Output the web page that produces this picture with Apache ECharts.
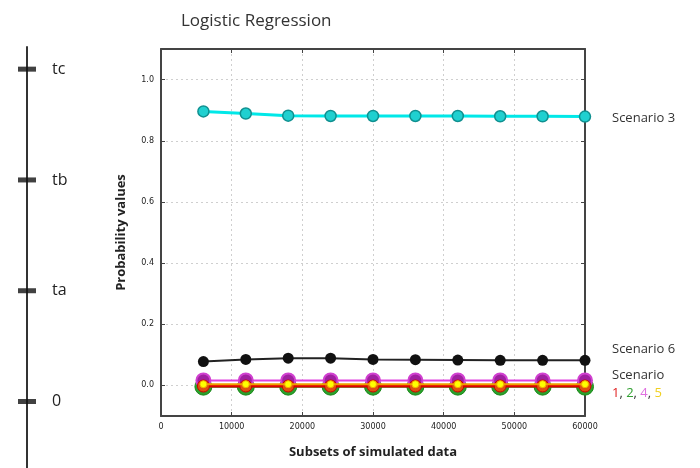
<!DOCTYPE html>
<html>
<head>
<meta charset="utf-8">
<script src="https://cdn.jsdelivr.net/npm/echarts@6/dist/echarts.min.js"></script>
<style>html,body{margin:0;padding:0;background:#fff}#c{width:700px;height:468px}</style>
</head>
<body>
<div id="c"></div>
<script>
const subsets = [6000, 12000, 18000, 24000, 30000, 36000, 42000, 48000, 54000, 60000];
const scenario3 = [0.896, 0.889, 0.882, 0.881, 0.881, 0.881, 0.881, 0.880, 0.880, 0.879];
const scenario6 = [0.078, 0.085, 0.089, 0.089, 0.085, 0.084, 0.083, 0.082, 0.082, 0.082];
const scenario1 = [-0.002, -0.002, -0.002, -0.002, -0.002, -0.002, -0.002, -0.002, -0.002, -0.002];
const scenario2 = [-0.004, -0.004, -0.004, -0.004, -0.004, -0.004, -0.004, -0.004, -0.004, -0.004];
const scenario4 = [0.016, 0.016, 0.016, 0.016, 0.016, 0.016, 0.016, 0.016, 0.016, 0.016];
const scenario5 = [0.004, 0.004, 0.004, 0.004, 0.004, 0.004, 0.004, 0.004, 0.004, 0.004];
const yTicks = [0.0, 0.2, 0.4, 0.6, 0.8, 1.0];
const xTicks = [0, 10000, 20000, 30000, 40000, 50000, 60000];
const timeTicks = [0, 1, 2, 3];
const timeLabels = ['0', 'ta', 'tb', 'tc'];

const pts = arr => arr.map((v, i) => [subsets[i], v]);
const FONT = '"Open Sans", sans-serif';

const chart = echarts.init(document.getElementById('c'), null, {renderer: 'canvas'});
const axisLineStyle = {show: true, onZero: false, lineStyle: {color: '#444', width: 2}};
const tickStyle = {show: true, inside: true, length: 4, lineStyle: {color: '#444'}};
const splitStyle = {show: true, lineStyle: {color: '#cfcfcf', type: [2, 3], width: 1}};
const tickLabelStyle = {fontSize: 8, color: '#222', margin: 7, fontFamily: 'DejaVu Sans'};
chart.setOption({
  animation: false,
  backgroundColor: '#fff',
  title: {
    text: 'Logistic Regression', left: 176, top: 8,
    textStyle: {fontFamily: FONT, fontSize: 17, fontWeight: 'normal', color: '#333'}
  },
  grid: [
    {left: 161, top: 49, width: 424, height: 367, show: false},
    {left: 27, top: 47, width: 40, height: 421, show: false}
  ],
  xAxis: [
    {
      type: 'value', gridIndex: 0, min: 0, max: 60000, position: 'bottom',
      name: 'Subsets of simulated data', nameLocation: 'middle', nameGap: 30,
      nameTextStyle: {fontFamily: FONT, fontSize: 13, fontWeight: 'bold', color: '#222'},
      axisLine: axisLineStyle,
      axisTick: Object.assign({customValues: xTicks}, tickStyle),
      splitLine: splitStyle,
      axisLabel: Object.assign({customValues: xTicks, formatter: v => String(v)}, tickLabelStyle)
    },
    {
      type: 'value', gridIndex: 0, min: 0, max: 60000, position: 'top',
      axisLine: axisLineStyle,
      axisTick: Object.assign({customValues: xTicks}, tickStyle),
      axisLabel: {show: false}, splitLine: {show: false}
    },
    {type: 'value', gridIndex: 1, min: 0, max: 1, show: false}
  ],
  yAxis: [
    {
      type: 'value', gridIndex: 0, min: -0.1, max: 1.1, position: 'left',
      name: 'Probability values', nameLocation: 'middle', nameGap: 33,
      nameTextStyle: {fontFamily: FONT, fontSize: 13, fontWeight: 'bold', color: '#222'},
      axisLine: axisLineStyle,
      axisTick: Object.assign({customValues: yTicks}, tickStyle),
      splitLine: splitStyle,
      axisLabel: Object.assign({customValues: yTicks, formatter: v => v.toFixed(1)}, tickLabelStyle)
    },
    {
      type: 'value', gridIndex: 0, min: -0.1, max: 1.1, position: 'right',
      axisLine: axisLineStyle,
      axisTick: Object.assign({customValues: yTicks}, tickStyle),
      axisLabel: {show: false}, splitLine: {show: false}
    },
    {
      type: 'value', gridIndex: 1, min: -0.6, max: 3.2, position: 'left',
      axisLine: {show: true, onZero: false, lineStyle: {color: '#333', width: 2}},
      axisTick: {show: false},
      splitLine: {show: false},
      axisLabel: {customValues: timeTicks, inside: true, margin: 25, fontSize: 16, color: '#222',
        fontFamily: FONT, formatter: v => timeLabels[timeTicks.indexOf(v)] ?? ''}
    }
  ],
  series: [
    {
      type: 'scatter', xAxisIndex: 2, yAxisIndex: 2, silent: true,
      data: timeTicks.map(t => [0, t]), symbol: 'rect', symbolSize: [18, 5],
      itemStyle: {color: '#111'}
    },
    {
      name: 'Scenario 2', type: 'line', xAxisIndex: 0, yAxisIndex: 0, data: pts(scenario2),
      symbol: 'circle', symbolSize: 17, lineStyle: {color: '#22a022', width: 2},
      itemStyle: {color: '#2ca02c', borderColor: '#1a8a1a', borderWidth: 1}, z: 2
    },
    {
      name: 'Scenario 4', type: 'line', xAxisIndex: 0, yAxisIndex: 0, data: pts(scenario4),
      symbol: 'circle', symbolSize: 14, lineStyle: {color: '#e040e0', width: 2},
      itemStyle: {color: '#a020a0', borderColor: '#d040d0', borderWidth: 2}, z: 3,
      endLabel: {
        show: true, distance: 27, offset: [0, 4], align: 'left',
        formatter: () => '{s|Scenario}\n{r|1}{s|, }{g|2}{s|, }{m|4}{s|, }{y|5}',
        rich: {
          s: {fontFamily: FONT, fontSize: 13, color: '#333', lineHeight: 18},
          r: {fontFamily: FONT, fontSize: 13, color: '#e02020', lineHeight: 18},
          g: {fontFamily: FONT, fontSize: 13, color: '#30a030', lineHeight: 18},
          m: {fontFamily: FONT, fontSize: 13, color: '#e070e0', lineHeight: 18},
          y: {fontFamily: FONT, fontSize: 13, color: '#f0d020', lineHeight: 18}
        }
      }
    },
    {
      name: 'Scenario 1', type: 'line', xAxisIndex: 0, yAxisIndex: 0, data: pts(scenario1),
      symbol: 'circle', symbolSize: 12, lineStyle: {color: '#e00000', width: 3},
      itemStyle: {color: '#e05010', borderColor: '#d00000', borderWidth: 1}, z: 4
    },
    {
      name: 'Scenario 5', type: 'line', xAxisIndex: 0, yAxisIndex: 0, data: pts(scenario5),
      symbol: 'circle', symbolSize: 7, lineStyle: {color: '#f0a000', width: 2},
      itemStyle: {color: '#ffff00', borderColor: '#f0b000', borderWidth: 1}, z: 5
    },
    {
      name: 'Scenario 6', type: 'line', xAxisIndex: 0, yAxisIndex: 0, data: pts(scenario6),
      symbol: 'circle', symbolSize: 11, lineStyle: {color: '#222', width: 2},
      itemStyle: {color: '#111'}, z: 5,
      endLabel: {show: true, distance: 27, offset: [0, -11], formatter: 'Scenario 6',
        fontFamily: FONT, fontSize: 13, color: '#333'}
    },
    {
      name: 'Scenario 3', type: 'line', xAxisIndex: 0, yAxisIndex: 0, data: pts(scenario3),
      symbol: 'circle', symbolSize: 11, lineStyle: {color: '#00e8e8', width: 3},
      itemStyle: {color: '#20d0d0', borderColor: '#109090', borderWidth: 1.5}, z: 5,
      endLabel: {show: true, distance: 27, offset: [0, 2], formatter: 'Scenario 3',
        fontFamily: FONT, fontSize: 13, color: '#333'}
    }
  ]
});
</script>
</body>
</html>
